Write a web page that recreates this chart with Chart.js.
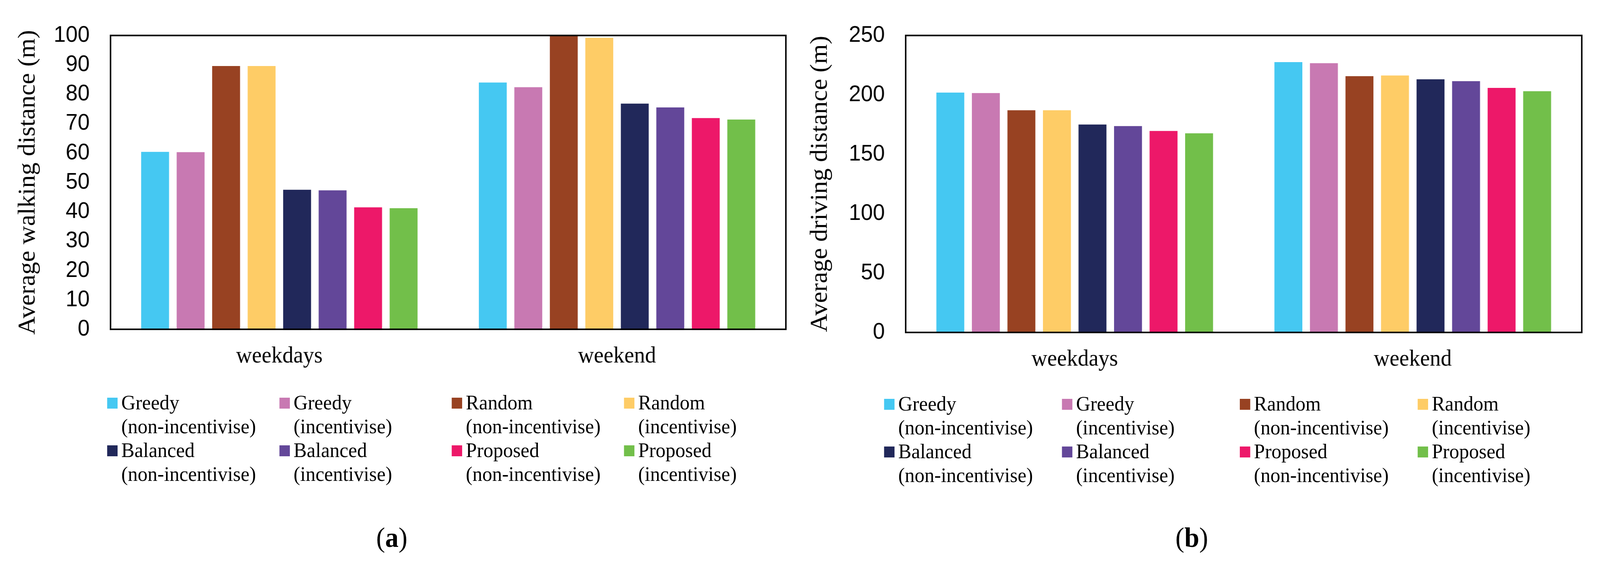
<!DOCTYPE html>
<html>
<head>
<meta charset="utf-8">
<script src="https://cdn.jsdelivr.net/npm/chart.js@4.4.1/dist/chart.umd.min.js"></script>
<style>
html,body{margin:0;padding:0;background:#fff;overflow:hidden;}
#page{width:4300px;height:1454px;position:relative;transform-origin:0 0;font-family:"Liberation Serif","Times New Roman",serif;}
canvas{position:absolute;top:0;}
.legend{position:absolute;display:grid;}
.item{display:flex;align-items:flex-start;font-size:53px;line-height:61px;color:#000;white-space:nowrap;}
.box{width:28px;height:28px;margin-top:18px;margin-right:10px;flex:none;}
.cap{position:absolute;font-size:72px;line-height:72px;width:300px;text-align:center;color:#000;}
</style>
</head>
<body>
<div id="page">
<canvas id="walk" width="2150" height="970" style="left:0"></canvas>
<canvas id="drive" width="2150" height="970" style="left:2150px"></canvas>
<div id="walk-legend" class="legend" style="left:288px;top:1000px;grid-template-columns:repeat(4,463px)"></div>
<div id="drive-legend" class="legend" style="left:2376px;top:1003px;grid-template-columns:repeat(4,478px)"></div>
<div class="cap" style="left:903px;top:1340px">(<b>a</b>)</div>
<div class="cap" style="left:3053px;top:1340px">(<b>b</b>)</div>
</div>
<script>
const categories = ['weekdays', 'weekend'];
const methods = ['Greedy', 'Greedy', 'Random', 'Random', 'Balanced', 'Balanced', 'Proposed', 'Proposed'];
const modes = ['(non-incentivise)', '(incentivise)', '(non-incentivise)', '(incentivise)',
               '(non-incentivise)', '(incentivise)', '(non-incentivise)', '(incentivise)'];
const colors = ['#45C8F2', '#C879B2', '#984222', '#FECC66', '#21285A', '#634799', '#ED1869', '#72BF4A'];

// (a) walking distance, one value per series
const walkWeekdays = [60.4, 60.3, 89.6, 89.6, 47.5, 47.3, 41.5, 41.2];
const walkWeekend  = [84.0, 82.4, 100.0, 99.2, 76.8, 75.5, 71.9, 71.4];
const walkTicks = [0, 10, 20, 30, 40, 50, 60, 70, 80, 90, 100];

// (b) driving distance
const driveWeekdays = [201.9, 201.5, 187.0, 187.0, 175.0, 173.7, 169.6, 167.6];
const driveWeekend  = [227.6, 226.7, 215.7, 216.3, 213.1, 211.5, 205.9, 203.1];
const driveTicks = [0, 50, 100, 150, 200, 250];

// fit the 4300x1454 layout into whatever the window really is
const page = document.getElementById('page');
page.style.transform = `scale(${window.innerWidth / 4300}, ${window.innerHeight / 1454})`;

// box round the plot area
const frame = {
    id: 'frame',
    afterDatasetsDraw(chart){
        const {ctx, chartArea: a} = chart;
        ctx.save();
        ctx.strokeStyle = '#000';
        ctx.lineWidth = 4;
        ctx.strokeRect(a.left, a.top, a.right - a.left, a.bottom - a.top);
        ctx.restore();
    }
};

function makeChart(id, weekdays, weekend, ticks, title, opt){
    const datasets = methods.map((m, i) => ({
        label: m + ' ' + modes[i],
        data: [weekdays[i], weekend[i]],
        backgroundColor: colors[i],
        borderWidth: 0,
        categoryPercentage: 0.841,
        barPercentage: 0.786
    }));

    const chart = new Chart(document.getElementById(id), {
        type: 'bar',
        data: {labels: categories, datasets: datasets},
        options: {
            responsive: false,
            animation: false,
            devicePixelRatio: 1,
            layout: {padding: {top: opt.top, right: opt.right, left: 0, bottom: 0}},
            plugins: {legend: {display: false}, tooltip: {enabled: false}},
            scales: {
                x: {
                    grid: {display: false, drawTicks: false},
                    border: {display: false},
                    ticks: {color: '#000', padding: 34, font: {family: 'Liberation Serif', size: 59}},
                    afterFit: s => { s.height = 970 - opt.bottom; }
                },
                y: {
                    min: ticks[0],
                    max: ticks[ticks.length - 1],
                    grid: {display: false, drawTicks: false},
                    border: {display: false},
                    ticks: {
                        stepSize: ticks[1] - ticks[0],
                        color: '#000',
                        padding: 56,
                        font: {family: '"Liberation Sans Narrow", "Liberation Sans", Arial', size: 58}
                    },
                    title: {
                        display: true,
                        text: title,
                        color: '#000',
                        padding: {top: opt.titlePad, bottom: 0},
                        font: {family: 'Liberation Serif', size: 65}
                    },
                    afterFit: s => { s.width = opt.yWidth; }
                }
            }
        },
        plugins: [frame]
    });

    // html legend, two lines per entry
    const leg = document.getElementById(id + '-legend');
    chart.data.datasets.forEach(ds => {
        const parts = ds.label.split(' (');
        const item = document.createElement('div');
        item.className = 'item';
        item.innerHTML = `<span class="box" style="background:${ds.backgroundColor}"></span><span>${parts[0]}<br>(${parts[1]}</span>`;
        leg.appendChild(item);
    });
    return chart;
}

makeChart('walk', walkWeekdays, walkWeekend, walkTicks, 'Average walking distance (m)',
    {top: 82, right: 38, bottom: 843, yWidth: 297, titlePad: 37});
makeChart('drive', driveWeekdays, driveWeekend, driveTicks, 'Average driving distance (m)',
    {top: 75, right: 49, bottom: 851, yWidth: 284, titlePad: 16});
</script>
</body>
</html>
